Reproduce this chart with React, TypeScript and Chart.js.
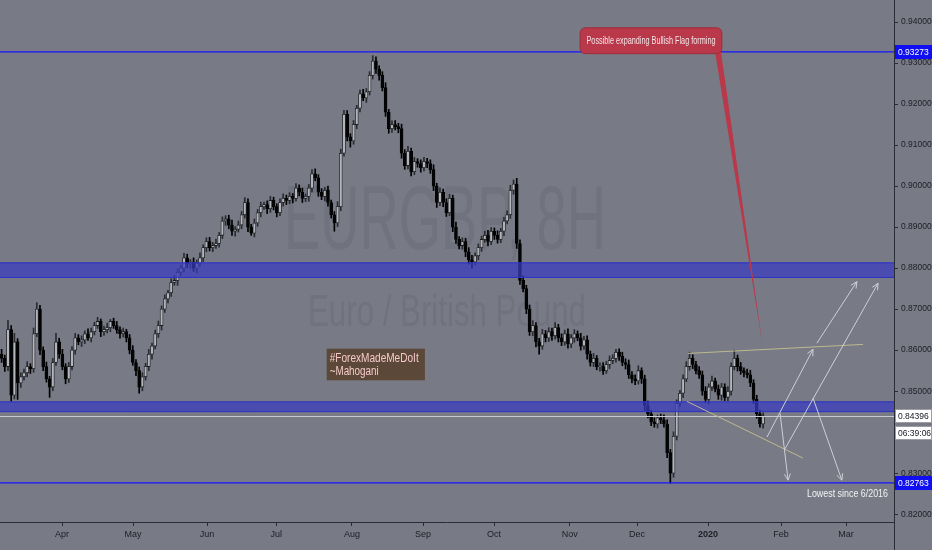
import { useEffect, useRef } from "react";
import { Chart, registerables } from "chart.js";

Chart.register(...registerables);

// EURGBP daily-ish candles, prices in pips (x 1e-4)
const firstOpen = 8590;
const closes = [
  // Mar - early Apr
  8580, 8560, 8650, 8490, 8620, 8520, 8535, 8545, 8560, 8555, 8640, 8700, 8600, 8560, 8530, 8510, 8570, 8620, 8590, 8560, 8530, 8560,
  // Apr - May
  8600, 8630, 8620, 8625, 8640, 8630, 8645, 8660, 8670, 8645, 8650, 8655, 8670, 8660, 8650, 8640, 8645, 8630, 8600, 8570, 8550, 8510,
  // May - Jun
  8535, 8560, 8590, 8610, 8640, 8660, 8700, 8725, 8740, 8765, 8770, 8790, 8800, 8825, 8810, 8815, 8800, 8812, 8825, 8850, 8865, 8850,
  // Jun - Jul
  8855, 8860, 8880, 8915, 8920, 8905, 8890, 8895, 8905, 8930, 8960, 8900, 8885, 8910, 8935, 8950, 8955, 8945, 8965, 8950, 8935, 8960,
  // Jul - Aug
  8970, 8965, 8975, 8970, 8995, 8985, 8970, 8975, 8995, 9030, 9020, 8985, 8975, 8990, 8960, 8930, 8910, 8950, 9080, 9175, 9120, 9110,
  // Aug - Sep
  9150, 9190, 9225, 9215, 9230, 9270, 9305, 9285, 9270, 9240, 9180, 9140, 9150, 9145, 9140, 9080, 9050, 9085, 9035, 9060, 9055, 9045,
  // Sep - Oct
  9060, 9055, 9040, 9000, 8960, 8985, 8960, 8935, 8970, 8900, 8870, 8855, 8865, 8840, 8820, 8815, 8830, 8850, 8870, 8880, 8865, 8890,
  // Oct - Nov
  8880, 8870, 8890, 8915, 8930, 8990, 9005, 8860, 8770, 8750, 8700, 8645, 8660, 8620, 8610, 8640, 8630, 8645, 8635, 8655, 8630, 8620,
  // Nov - Dec
  8640, 8615, 8630, 8640, 8630, 8610, 8625, 8590, 8570, 8580, 8560, 8560, 8550, 8565, 8575, 8580, 8595, 8585, 8570, 8565, 8540,
  // Dec - Jan
  8530, 8525, 8550, 8530, 8465, 8445, 8425, 8420, 8435, 8430, 8420, 8350, 8300, 8390, 8470, 8495, 8530, 8560, 8580, 8565, 8550, 8540,
  // Jan 2020
  8500, 8480, 8510, 8525, 8505, 8490, 8510, 8485, 8500, 8560, 8580, 8560, 8550, 8545, 8540, 8520, 8480, 8445, 8420, 8440,
];
const upWick = [
  12, 8, 23, 10, 21, 8, 10, 9, 12, 7, 14, 16, 9, 8, 11, 6, 10, 21, 9, 12, 7, 10,
  9, 11, 8, 10, 7, 12, 9, 8, 10, 6, 9, 11, 5, 8, 10, 7, 9, 6, 8, 11, 7, 9,
  10, 8, 12, 7, 9, 11, 8, 10, 6, 9, 12, 8, 7, 11, 9, 6, 10, 8, 12, 7, 9, 10,
  8, 11, 7, 10, 8, 9, 12, 6, 10, 8, 12, 9, 7, 10, 8, 11, 6, 9, 10, 8, 7, 9,
  11, 8, 9, 7, 11, 8, 10, 6, 9, 10, 12, 8, 9, 7, 10, 6, 8, 12, 10, 10, 9, 8,
  10, 7, 9, 11, 8, 9, 13, 10, 8, 9, 12, 7, 9, 10, 8, 11, 9, 12, 8, 10, 7, 9,
  10, 8, 9, 12, 7, 11, 8, 9, 10, 8, 12, 7, 9, 8, 10, 11, 7, 9, 8, 10, 12, 9,
  8, 11, 7, 9, 10, 12, 10, 14, 9, 11, 8, 10, 12, 7, 9, 11, 8, 10, 9, 12, 8, 10,
  9, 12, 8, 10, 7, 11, 9, 10, 8, 12, 7, 9, 10, 8, 11, 9, 7, 8, 10, 9, 11,
  8, 10, 12, 7, 9, 11, 8, 10, 7, 9, 12, 10, 8, 11, 9, 7, 10, 12, 15, 9, 8, 10,
  9, 11, 8, 12, 7, 10, 9, 8, 11, 9, 20, 8, 10, 7, 9, 11, 8, 10, 9, 7,
];
const downWick = [
  10, 12, 10, 15, 9, 40, 11, 8, 10, 12, 9, 7, 11, 10, 8, 25, 9, 7, 10, 8, 12, 9,
  8, 10, 7, 11, 9, 6, 10, 8, 7, 12, 9, 8, 10, 7, 9, 11, 8, 10, 9, 7, 12, 15,
  9, 8, 10, 12, 7, 9, 11, 8, 10, 9, 7, 12, 8, 10, 9, 11, 8, 12, 7, 9, 10, 8,
  10, 7, 9, 8, 11, 9, 10, 12, 7, 9, 8, 11, 5, 9, 8, 10, 7, 12, 9, 8, 10, 7,
  9, 10, 8, 11, 7, 9, 10, 8, 12, 9, 7, 10, 8, 11, 9, 8, 20, 9, 10, 7, 10, 15,
  8, 10, 9, 7, 11, 8, 9, 10, 12, 8, 10, 11, 9, 8, 10, 12, 9, 8, 10, 7, 9, 11,
  8, 10, 9, 11, 12, 8, 10, 9, 7, 11, 10, 8, 9, 12, 10, 15, 8, 10, 9, 7, 11, 8,
  10, 9, 8, 11, 7, 9, 10, 12, 10, 8, 11, 9, 10, 12, 20, 8, 10, 9, 11, 8, 10, 9,
  8, 10, 9, 11, 7, 10, 8, 12, 9, 10, 8, 11, 9, 7, 10, 8, 9, 10, 8, 11, 9,
  10, 9, 8, 11, 12, 10, 9, 8, 10, 9, 8, 12, 24, 10, 9, 8, 11, 7, 9, 10, 8, 9,
  10, 8, 11, 9, 7, 10, 12, 8, 9, 10, 8, 11, 9, 10, 8, 9, 10, 11, 8, 10,
];

// x axis: bar index where each month starts
const monthTicks = [18.9, 41.1, 64.2, 85.8, 109.5, 131.7, 153.9, 177.6, 198.6, 220.8, 243.6, 263.9];
const monthLabels = ["Apr", "May", "Jun", "Jul", "Aug", "Sep", "Oct", "Nov", "Dec", "2020", "Feb", "Mar"];
const priceTicks = [0.82, 0.83, 0.84, 0.85, 0.86, 0.87, 0.88, 0.89, 0.9, 0.91, 0.92, 0.93, 0.94];

// drawings (bar index, price)
const levelLines = [0.93273, 0.82763];
const zones = [
  [0.8776, 0.8814],
  [0.8449, 0.8475],
];
const lastPrice = 0.84396;
const countdown = "06:39:06";
const flagLines = [
  [214.5, 0.8592, 269.2, 0.8614],
  [214.2, 0.8475, 250.4, 0.8337],
];
const arrows = [
  [239.2, 0.8388, 253.6, 0.8602],
  [243.3, 0.8446, 245.8, 0.8283],
  [244.8, 0.8359, 273.9, 0.8763],
  [253.6, 0.8483, 262.6, 0.8283],
  [254.8, 0.8617, 267.3, 0.8767],
];
const callout = { text: "Possible expanding Bullish Flag forming", x0: 180.8, x1: 225.1, top: 0.93861, bottom: 0.93229, tipX: 237.9, tipY: 0.8609 };
const noteLines = ["#ForexMadeMeDoIt", "~Mahogani"];
const note = { x0: 101.6, x1: 132.3, top: 0.86036, bottom: 0.85265 };
const lowText = { text: "Lowest since 6/2016", x: 251.7, y: 0.8242 };

const BG = "#787b86";
const AXIS = "#2a2d35";
const FONT = "'Liberation Sans', Arial, sans-serif";

const candles = closes.map((c, i) => {
  const o = i === 0 ? firstOpen : closes[i - 1];
  const h = Math.max(o, c) + (upWick[i] ?? 10);
  const l = Math.min(o, c) - (downWick[i] ?? 10);
  return { i, o: o / 1e4, c: c / 1e4, h: h / 1e4, l: l / 1e4, up: c >= o };
});

function fitText(ctx, text, x, y, width, font, color, align = "left") {
  ctx.save();
  ctx.font = font;
  const w = ctx.measureText(text).width;
  ctx.translate(x, y);
  ctx.scale(width / w, 1);
  ctx.fillStyle = color;
  ctx.textAlign = align;
  ctx.textBaseline = "alphabetic";
  ctx.fillText(text, 0, 0);
  ctx.restore();
}

function roundRect(ctx, x, y, w, h, r) {
  ctx.beginPath();
  ctx.moveTo(x + r, y);
  ctx.lineTo(x + w - r, y);
  ctx.quadraticCurveTo(x + w, y, x + w, y + r);
  ctx.lineTo(x + w, y + h - r);
  ctx.quadraticCurveTo(x + w, y + h, x + w - r, y + h);
  ctx.lineTo(x + r, y + h);
  ctx.quadraticCurveTo(x, y + h, x, y + h - r);
  ctx.lineTo(x, y + r);
  ctx.quadraticCurveTo(x, y, x + r, y);
  ctx.closePath();
}

const backdrop = {
  id: "backdrop",
  beforeDraw(chart) {
    const { ctx, width, height } = chart;
    ctx.save();
    ctx.fillStyle = BG;
    ctx.fillRect(0, 0, width, height);
    ctx.restore();
  },
  beforeDatasetsDraw(chart) {
    const { ctx, chartArea: a } = chart;
    const cx = (a.left + a.right) / 2;
    const wm = "rgba(30,33,45,0.09)";
    const ys = chart.scales.y;
    fitText(ctx, "EURGBP, 8H", cx - 2, ys.getPixelForValue(0.8846), 322, `91px ${FONT}`, wm, "center");
    fitText(ctx, "Euro / British Pound", cx, ys.getPixelForValue(0.866), 278, `44px ${FONT}`, wm, "center");
  },
};

const drawings = {
  id: "drawings",
  afterDatasetsDraw(chart) {
    const { ctx, chartArea: a } = chart;
    const xs = chart.scales.x;
    const ys = chart.scales.y;
    const X = (v) => xs.getPixelForValue(v);
    const Y = (v) => ys.getPixelForValue(v);
    ctx.save();
    ctx.beginPath();
    ctx.rect(a.left, 0, a.right - a.left, a.bottom);
    ctx.clip();

    // support / resistance zones
    zones.forEach(([lo, hi]) => {
      const y0 = Y(hi);
      const y1 = Y(lo);
      ctx.fillStyle = "rgba(57,60,191,0.72)";
      ctx.fillRect(a.left, y0, a.right - a.left, y1 - y0);
      ctx.strokeStyle = "#2f33c4";
      ctx.lineWidth = 1;
      ctx.beginPath();
      ctx.moveTo(a.left, y0 + 0.5);
      ctx.lineTo(a.right, y0 + 0.5);
      ctx.moveTo(a.left, y1 - 0.5);
      ctx.lineTo(a.right, y1 - 0.5);
      ctx.stroke();
    });

    // last price line
    ctx.strokeStyle = "#c9cbd0";
    ctx.lineWidth = 1;
    ctx.beginPath();
    ctx.moveTo(a.left, Math.round(Y(lastPrice)) + 0.5);
    ctx.lineTo(a.right, Math.round(Y(lastPrice)) + 0.5);
    ctx.stroke();

    // key levels
    ctx.strokeStyle = "#1414ff";
    ctx.lineWidth = 1.4;
    levelLines.forEach((p) => {
      ctx.beginPath();
      ctx.moveTo(a.left, Y(p));
      ctx.lineTo(a.right, Y(p));
      ctx.stroke();
    });

    // flag boundaries
    ctx.strokeStyle = "#bdb98f";
    ctx.lineWidth = 1;
    flagLines.forEach(([x0, y0, x1, y1]) => {
      ctx.beginPath();
      ctx.moveTo(X(x0), Y(y0));
      ctx.lineTo(X(x1), Y(y1));
      ctx.stroke();
    });

    // projection arrows
    ctx.strokeStyle = "#cdd0d6";
    ctx.lineWidth = 1;
    arrows.forEach(([x0, y0, x1, y1]) => {
      const ax = X(x0), ay = Y(y0), bx = X(x1), by = Y(y1);
      const ang = Math.atan2(by - ay, bx - ax);
      ctx.beginPath();
      ctx.moveTo(ax, ay);
      ctx.lineTo(bx, by);
      ctx.moveTo(bx, by);
      ctx.lineTo(bx - 7 * Math.cos(ang - 0.45), by - 7 * Math.sin(ang - 0.45));
      ctx.moveTo(bx, by);
      ctx.lineTo(bx - 7 * Math.cos(ang + 0.45), by - 7 * Math.sin(ang + 0.45));
      ctx.stroke();
    });

    // callout
    const cl = X(callout.x0), cr = X(callout.x1), ct = Y(callout.top), cb = Y(callout.bottom);
    ctx.fillStyle = "#b9394a";
    ctx.beginPath();
    ctx.moveTo(cr - 7, cb - 3);
    ctx.lineTo(cr - 1, cb - 3);
    ctx.lineTo(X(callout.tipX), Y(callout.tipY));
    ctx.closePath();
    ctx.fill();
    roundRect(ctx, cl, ct, cr - cl, cb - ct, 6);
    ctx.fill();
    ctx.strokeStyle = "#9e2c3b";
    ctx.lineWidth = 1;
    ctx.stroke();
    fitText(ctx, callout.text, (cl + cr) / 2, (ct + cb) / 2 + 3.5, 129, `10px ${FONT}`, "#f4e4e6", "center");

    // author note
    const nl = X(note.x0), nr = X(note.x1), nt = Y(note.top), nb = Y(note.bottom);
    ctx.fillStyle = "#5b4838";
    ctx.fillRect(nl, nt, nr - nl, nb - nt);
    fitText(ctx, noteLines[0], nl + 3, nt + 13.5, 89, `12.5px ${FONT}`, "#f6caca");
    fitText(ctx, noteLines[1], nl + 3, nt + 26.5, 49, `12.5px ${FONT}`, "#f6caca");

    // low note
    fitText(ctx, lowText.text, X(lowText.x), Y(lowText.y), 81, `11px ${FONT}`, "#f3f3f3");

    ctx.restore();
  },
  afterDraw(chart) {
    const { ctx, chartArea: a, width } = chart;
    const ys = chart.scales.y;
    ctx.save();
    // axis border over the full height
    ctx.strokeStyle = AXIS;
    ctx.lineWidth = 1;
    ctx.beginPath();
    ctx.moveTo(Math.round(a.right) + 0.5, 0);
    ctx.lineTo(Math.round(a.right) + 0.5, chart.height);
    ctx.stroke();

    const tag = (p, text, bg, fg, dy = 0) => {
      const y = Math.round(ys.getPixelForValue(p)) + dy;
      ctx.fillStyle = bg;
      ctx.fillRect(a.right + 1, y - 7, width - a.right - 1, 14);
      if (bg === "#ffffff") {
        ctx.strokeStyle = "#9a9da6";
        ctx.lineWidth = 1;
        ctx.strokeRect(a.right + 1.5, y - 6.5, width - a.right - 2, 13);
      }
      ctx.fillStyle = fg;
      ctx.font = `8.5px ${FONT}`;
      ctx.textAlign = "left";
      ctx.textBaseline = "middle";
      ctx.fillText(text, a.right + 4, y + 0.5);
    };
    levelLines.forEach((p) => tag(p, p.toFixed(5), "#0f0ff2", "#ffffff"));
    tag(lastPrice, lastPrice.toFixed(5), "#ffffff", "#131722");
    tag(lastPrice, countdown, "#ffffff", "#131722", 17);
    ctx.restore();
  },
};

export default function App() {
  const canvasRef = useRef<HTMLCanvasElement | null>(null);

  useEffect(() => {
    const ctx = canvasRef.current.getContext("2d");
    const chart = new Chart(ctx, {
      type: "bar",
      data: {
        datasets: [
          {
            label: "wick",
            data: candles.map((k) => ({ x: k.i, y: [k.l, k.h] })),
            backgroundColor: candles.map((k) => (k.up ? "#2a2c31" : "#000000")),
            borderWidth: 0,
            barThickness: 1,
            grouped: false,
            order: 2,
          },
          {
            label: "body",
            data: candles.map((k) => ({ x: k.i, y: [k.o, k.c] })),
            backgroundColor: candles.map((k) => (k.up ? "#b3b5bc" : "#040404")),
            borderColor: candles.map((k) => (k.up ? "#1b1c20" : "#040404")),
            borderWidth: 0.8,
            borderSkipped: false,
            barThickness: 3,
            minBarLength: 1,
            grouped: false,
            order: 1,
          },
        ],
      },
      options: {
        animation: false,
        responsive: false,
        layout: { padding: 0 },
        plugins: { legend: { display: false }, tooltip: { enabled: false } },
        scales: {
          x: {
            type: "linear",
            min: -0.5,
            max: 278.9,
            offset: false,
            afterBuildTicks: (s) => {
              s.ticks = monthTicks.map((v) => ({ value: v }));
            },
            afterFit: (s) => {
              s.height = 28;
            },
            grid: { drawOnChartArea: false, drawTicks: true, tickLength: 4, color: AXIS, offset: false },
            border: { color: AXIS, width: 1 },
            ticks: {
              autoSkip: false,
              maxRotation: 0,
              padding: 3,
              color: "#1c1e24",
              font: (c) => ({ family: FONT, size: 9, weight: c.tick && c.tick.label === "2020" ? "bold" : "normal" }),
              callback: (v, i) => monthLabels[i] ?? "",
            },
          },
          y: {
            position: "right",
            min: 0.8181,
            max: 0.9434,
            afterBuildTicks: (s) => {
              s.ticks = priceTicks.map((v) => ({ value: v }));
            },
            afterFit: (s) => {
              s.width = 38;
            },
            grid: { drawOnChartArea: false, drawTicks: true, tickLength: 4, color: AXIS },
            border: { color: AXIS, width: 1 },
            ticks: {
              padding: 3,
              color: "#1c1e24",
              font: { family: FONT, size: 8.5 },
              callback: (v) => Number(v).toFixed(5),
            },
          },
        },
      },
      plugins: [backdrop, drawings],
    });
    return () => {
      chart.destroy();
    };
  }, []);

  return (
    <div style={{ position: "fixed", left: 0, top: 0, width: 932, height: 550, background: BG }}>
      <canvas ref={canvasRef} width={932} height={550} style={{ display: "block" }} />
    </div>
  );
}
